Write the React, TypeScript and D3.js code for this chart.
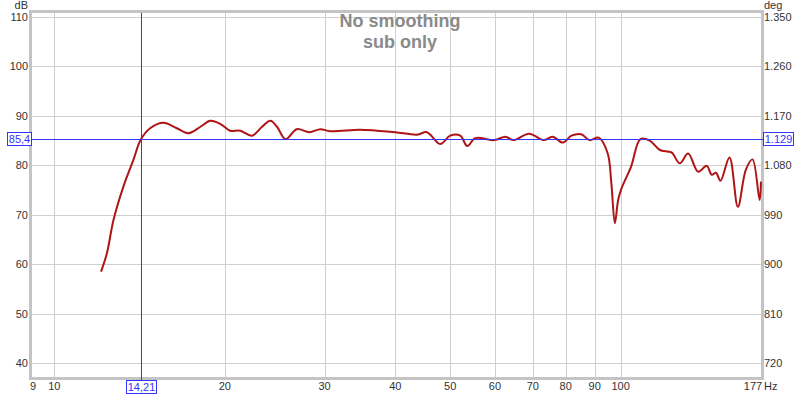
import { useEffect, useRef } from 'react';
import * as d3 from 'd3';

// frequency response
const freqs = [
  12.09, 12.38, 12.72, 13.24, 13.79, 14.21, 14.76, 15.58, 16.45, 17.26, 18.11, 18.85,
  19.63, 20.43, 21.29, 22.33, 23.27, 24.07, 24.73, 25.6, 26.8, 28.2, 29.5, 30.7, 34.6,
  37.1, 40.0, 43.7, 45.5, 48.0, 50.0, 52.1, 53.6, 55.4, 59.9, 62.6, 64.7, 68.9, 73.2,
  75.8, 79.1, 81.9, 85.2, 88.1, 91.5, 94.9, 96.3, 97.7, 99.0, 100.2, 104.4, 108.4,
  112.6, 117.3, 123.0, 127.2, 131.6, 137.1, 141.9, 144.9, 147.4, 150.1, 155.7, 161.1,
  166.4, 171.0, 176.0, 177.0,
];
const spl = [
  58.5, 62.2, 69.0, 75.7, 81.1, 85.2, 87.5, 88.6, 87.5, 86.5, 87.8, 89.0,
  88.4, 87.0, 87.0, 86.0, 87.8, 89.0, 87.8, 85.3, 87.3, 86.7, 87.3, 86.9, 87.2,
  87.0, 86.7, 86.2, 86.7, 84.3, 86.0, 86.0, 83.9, 85.5, 85.1, 85.8, 85.1, 86.4, 85.1,
  85.8, 84.6, 86.0, 86.3, 85.1, 85.6, 82.4, 76.4, 68.3, 73.0, 75.1, 79.8, 85.3,
  85.0, 83.1, 82.6, 80.4, 82.4, 78.7, 79.9, 78.1, 78.5, 76.9, 81.6, 71.6,
  79.1, 81.2, 73.0, 76.7,
];

const xGrid = [10, 20, 30, 40, 50, 60, 70, 80, 90, 100];
const xLabels = ['10', '20', '30', '40', '50', '60', '70', '80', '90', '100'];
const yTicks = [40, 50, 60, 70, 80, 90, 100, 110];
const titleLines = ['No smoothing', 'sub only'];
const cursor = { freq: 14.21, level: 85.4, freqLabel: '14,21', levelLabel: '85,4', degLabel: '1.129' };

const FONT = '"Liberation Sans", Arial, sans-serif';
const BLUE = '#3434ff';

const degFmt = (db: number) => {
  const v = Math.round((db - 110) * 9 + 1350);
  return v >= 1000 ? `${Math.floor(v / 1000)}.${String(v % 1000).padStart(3, '0')}` : `${v}`;
};

const render = (node: SVGSVGElement) => {
  const svg = d3.select(node);
  svg.selectAll('*').remove();

  const left = 32, right = 761, top = 13, bottom = 377;
  const x = d3.scaleLog().domain([9.13, 177]).range([left, right]);
  const y = d3.scaleLinear().domain([37.2, 110.8]).range([bottom, top]);

  svg.append('rect').attr('width', 800).attr('height', 394).attr('fill', '#fff');

  // grid
  const g = svg.append('g');
  g.selectAll('line.v')
    .data(xGrid)
    .enter()
    .append('line')
    .attr('x1', (d) => Math.round(x(d)) + 0.5)
    .attr('x2', (d) => Math.round(x(d)) + 0.5)
    .attr('y1', top)
    .attr('y2', bottom)
    .attr('stroke', '#cfcfcf');
  g.selectAll('line.h')
    .data(yTicks)
    .enter()
    .append('line')
    .attr('x1', left)
    .attr('x2', right)
    .attr('y1', (d) => Math.round(y(d)) + 0.5)
    .attr('y2', (d) => Math.round(y(d)) + 0.5)
    .attr('stroke', '#cfcfcf');

  // frame
  svg
    .append('rect')
    .attr('x', left - 1.5)
    .attr('y', top - 1.5)
    .attr('width', right - left + 3)
    .attr('height', bottom - top + 3)
    .attr('fill', 'none')
    .attr('stroke', '#c4c4c4')
    .attr('stroke-width', 3);

  // title
  svg
    .append('g')
    .selectAll('text')
    .data(titleLines)
    .enter()
    .append('text')
    .attr('x', 400)
    .attr('y', (d, i) => 27 + i * 20.5)
    .attr('text-anchor', 'middle')
    .attr('font-family', FONT)
    .attr('font-size', 18)
    .attr('font-weight', 'bold')
    .attr('fill', '#8a8a8a')
    .text((d) => d);

  // axes labels
  const ax = svg.append('g').attr('font-family', FONT).attr('font-size', 11).attr('fill', '#333');
  ax.selectAll('text.l')
    .data(yTicks)
    .enter()
    .append('text')
    .attr('x', 28)
    .attr('y', (d) => y(d) + 4)
    .attr('text-anchor', 'end')
    .text((d) => d);
  ax.selectAll('text.r')
    .data(yTicks)
    .enter()
    .append('text')
    .attr('x', 764)
    .attr('y', (d) => y(d) + 4)
    .text((d) => degFmt(d));
  ax.selectAll('text.b')
    .data(xGrid)
    .enter()
    .append('text')
    .attr('x', (d) => x(d))
    .attr('y', 390)
    .attr('text-anchor', 'middle')
    .text((d, i) => xLabels[i]);
  ax.append('text').attr('x', 33).attr('y', 390).attr('text-anchor', 'middle').text('9');
  ax.append('text').attr('x', 753).attr('y', 390).attr('text-anchor', 'middle').text('177');
  ax.append('text').attr('x', 764).attr('y', 390).text('Hz');
  ax.append('text').attr('x', 28).attr('y', 9).attr('text-anchor', 'end').text('dB');
  ax.append('text').attr('x', 764).attr('y', 9).text('deg');

  // curve
  const pts: [number, number][] = freqs.map((f, i) => [x(f), y(spl[i])]);
  svg
    .append('path')
    .attr('d', d3.line().curve(d3.curveCatmullRom.alpha(0.5))(pts))
    .attr('fill', 'none')
    .attr('stroke', '#b01515')
    .attr('stroke-width', 2)
    .attr('stroke-linejoin', 'round');

  // cursor
  const cx = Math.round(x(cursor.freq)) + 0.5;
  const cy = Math.round(y(cursor.level)) + 0.5;
  svg.append('line').attr('x1', cx).attr('x2', cx).attr('y1', top).attr('y2', 380).attr('stroke', BLUE);
  svg.append('line').attr('x1', left).attr('x2', 763).attr('y1', cy).attr('y2', cy).attr('stroke', BLUE);

  const box = (bx: number, by: number, w: number, label: string) => {
    svg
      .append('rect')
      .attr('x', bx + 0.5)
      .attr('y', by + 0.5)
      .attr('width', w)
      .attr('height', 13)
      .attr('fill', '#fff')
      .attr('stroke', BLUE);
    svg
      .append('text')
      .attr('x', bx + w / 2 + 0.5)
      .attr('y', by + 11)
      .attr('text-anchor', 'middle')
      .attr('font-family', FONT)
      .attr('font-size', 11)
      .attr('fill', BLUE)
      .text(label);
  };
  box(7, cy - 7.5, 24, cursor.levelLabel);
  box(763, cy - 7.5, 30, cursor.degLabel);
  box(cx - 15.5, 380, 30, cursor.freqLabel);
};

export default function App() {
  const ref = useRef<SVGSVGElement>(null);
  useEffect(() => {
    if (ref.current) render(ref.current);
  }, []);
  return (
    <svg
      ref={ref}
      width={800}
      height={394}
      style={{ position: 'absolute', left: 0, top: 0, display: 'block' }}
    />
  );
}
